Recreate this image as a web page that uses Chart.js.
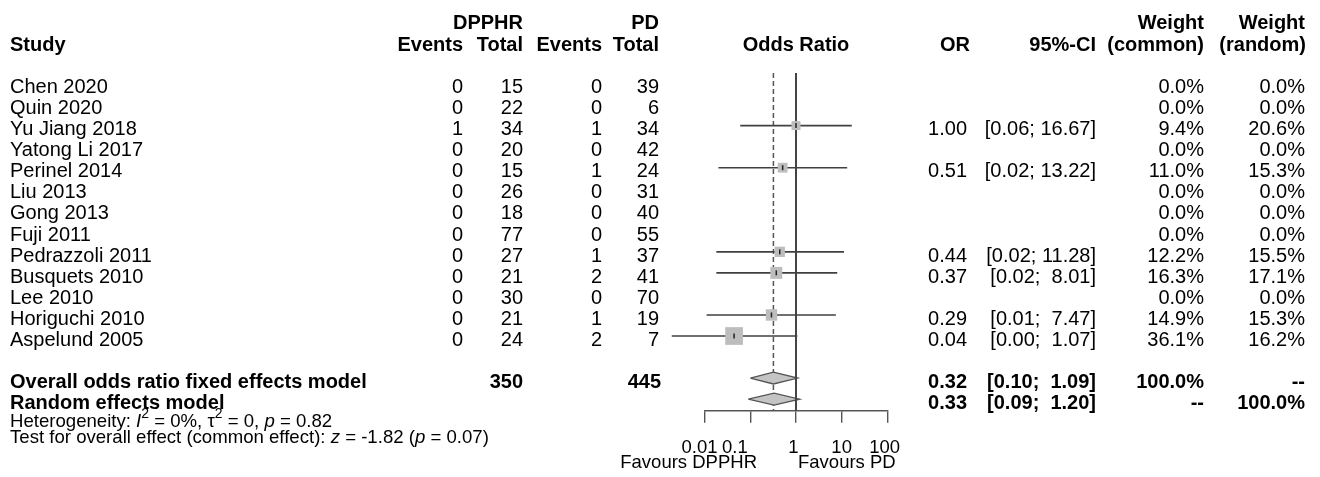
<!DOCTYPE html>
<html>
<head>
<meta charset="utf-8">
<script src="https://cdn.jsdelivr.net/npm/chart.js@4.4.1/dist/chart.umd.min.js"></script>
<style>
  html, body { margin: 0; background: #fff; }
  canvas { display: block; }
</style>
</head>
<body>
<canvas id="forest" width="1320" height="477"></canvas>
<script>
// ─── Data ────────────────────────────────────────────────────
const studies = ["Chen 2020", "Quin 2020", "Yu Jiang 2018", "Yatong Li 2017", "Perinel 2014",
  "Liu 2013", "Gong 2013", "Fuji 2011", "Pedrazzoli 2011", "Busquets 2010", "Lee 2010",
  "Horiguchi 2010", "Aspelund 2005"];
const eventsDpphr = [0, 0, 1, 0, 0, 0, 0, 0, 0, 0, 0, 0, 0];
const totalDpphr  = [15, 22, 34, 20, 15, 26, 18, 77, 27, 21, 30, 21, 24];
const eventsPd    = [0, 0, 1, 0, 1, 0, 0, 0, 1, 2, 0, 1, 2];
const totalPd     = [39, 6, 34, 42, 24, 31, 40, 55, 37, 41, 70, 19, 7];
const oddsRatio   = [null, null, 1.00, null, 0.51, null, null, null, 0.44, 0.37, null, 0.29, 0.044];
const ciLower     = [null, null, 0.06, null, 0.02, null, null, null, 0.018, 0.018, null, 0.011, 0.0019];
const ciUpper     = [null, null, 16.67, null, 13.22, null, null, null, 11.28, 8.01, null, 7.47, 1.07];
const weightCommon = [0, 0, 9.4, 0, 11.0, 0, 0, 0, 12.2, 16.3, 0, 14.9, 36.1];
const weightRandom = [0, 0, 20.6, 0, 15.3, 0, 0, 0, 15.5, 17.1, 0, 15.3, 16.2];

const sumTotalDpphr = 350;
const sumTotalPd = 445;
const fixedEffect  = [0.32, 0.10, 1.09];   // OR, lower, upper
const randomEffect = [0.33, 0.09, 1.20];

const tickValues = [0.01, 0.1, 1, 10, 100];
const tickLabels = ["0.01", "0.1", "1", "10", "100"];

// ─── Helpers ─────────────────────────────────────────────────
const FONT = '"Liberation Sans", Arial, Helvetica, sans-serif';
const FIXED_ROW = 14, RANDOM_ROW = 15;
const withCi = studies.map((_, i) => i).filter(i => oddsRatio[i] != null);

const fmtCi = (lo, hi) => `[${lo.toFixed(2)}; ${hi.toFixed(2).padStart(5)}]`;
const fmtPct = w => `${w.toFixed(1)}%`;
// R nudges some tick labels left of their tick; trailing spaces mimic that
const labelNudge = [2, 6, 1, 0, 1];

function diamond(eff, row) {
  const [est, lo, hi] = eff;
  const h = 0.28;
  return [{ x: lo, y: row }, { x: est, y: row - h }, { x: hi, y: row }, { x: est, y: row + h }, { x: lo, y: row }];
}

const LINE = "#404040";

// ─── Datasets ────────────────────────────────────────────────
const datasets = [
  // center marks
  {
    type: "scatter",
    data: withCi.map(i => ({ x: oddsRatio[i], y: i })),
    pointStyle: "line", rotation: 90, pointRadius: 2.5,
    borderColor: "#222", borderWidth: 1.5, order: 1, clip: false,
  },
  // squares
  {
    type: "scatter",
    data: withCi.map(i => ({ x: oddsRatio[i], y: i })),
    pointStyle: "rect",
    pointRadius: withCi.map(i => 2.95 * Math.sqrt(weightCommon[i]) / Math.SQRT2),
    backgroundColor: "#bdbdbd", borderWidth: 0, order: 2, clip: false,
  },
  // confidence intervals
  ...withCi.map(i => ({
    type: "line",
    data: [{ x: ciLower[i], y: i }, { x: ciUpper[i], y: i }],
    borderColor: LINE, borderWidth: 1.6, pointRadius: 0, order: 3, clip: false,
  })),
  // reference line at 1
  {
    type: "line",
    data: [{ x: 1, y: -0.5 }, { x: 1, y: 15.55 }],
    borderColor: "#444", borderWidth: 2, pointRadius: 0, order: 4,
  },
  // diamonds
  ...[[fixedEffect, FIXED_ROW], [randomEffect, RANDOM_ROW]].map(([eff, row]) => ({
    type: "line",
    data: diamond(eff, row),
    borderColor: "#555", borderWidth: 1.3, backgroundColor: "#c4c4c4",
    fill: "shape", tension: 0, pointRadius: 0, order: 5,
  })),
  // common effect dashed line
  {
    type: "line",
    data: [{ x: fixedEffect[0], y: -0.5 }, { x: fixedEffect[0], y: 15.55 }],
    borderColor: "#555", borderWidth: 1.5, borderDash: [5, 3], pointRadius: 0, order: 6,
  },
];

// ─── Text columns ────────────────────────────────────────────
function txt(ctx, s, x, y, align = "left", bold = false, size = 20, italic = false) {
  ctx.font = `${italic ? "italic " : ""}${bold ? "bold " : ""}${size}px ${FONT}`;
  ctx.textAlign = align;
  ctx.textBaseline = "alphabetic";
  ctx.fillText(s, x, y);
}

function rich(ctx, parts, x, y) {
  ctx.textAlign = "left";
  ctx.textBaseline = "alphabetic";
  for (const p of parts) {
    const size = p.sup ? 14 : 18.6;
    ctx.font = `${p.it ? "italic " : ""}${size}px ${FONT}`;
    ctx.fillText(p.t, x, p.sup ? y - 9 : y);
    x += ctx.measureText(p.t).width;
  }
}

const textPlugin = {
  id: "forestText",
  afterDraw(chart) {
    const ctx = chart.ctx;
    const ys = chart.scales.y;
    const base = i => ys.getPixelForValue(i) + 9.7;
    ctx.save();
    ctx.fillStyle = "#000";

    // headers
    txt(ctx, "DPPHR", 523, 29, "right", true);
    txt(ctx, "PD", 659, 29, "right", true);
    txt(ctx, "Weight", 1204, 29, "right", true);
    txt(ctx, "Weight", 1305, 29, "right", true);
    txt(ctx, "Study", 10, 51, "left", true);
    txt(ctx, "Events", 463, 51, "right", true);
    txt(ctx, "Total", 523, 51, "right", true);
    txt(ctx, "Events", 602, 51, "right", true);
    txt(ctx, "Total", 659, 51, "right", true);
    txt(ctx, "Odds Ratio", 796, 51, "center", true);
    txt(ctx, "OR", 970, 51, "right", true);
    txt(ctx, "95%-CI", 1096, 51, "right", true);
    txt(ctx, "(common)", 1204, 51, "right", true);
    txt(ctx, "(random)", 1306, 51, "right", true);

    // study rows
    studies.forEach((name, i) => {
      const y = base(i);
      txt(ctx, name, 10, y);
      txt(ctx, String(eventsDpphr[i]), 463, y, "right");
      txt(ctx, String(totalDpphr[i]), 523, y, "right");
      txt(ctx, String(eventsPd[i]), 602, y, "right");
      txt(ctx, String(totalPd[i]), 659, y, "right");
      if (oddsRatio[i] != null) {
        txt(ctx, oddsRatio[i].toFixed(2), 967, y, "right");
        txt(ctx, fmtCi(ciLower[i], ciUpper[i]), 1096, y, "right");
      }
      txt(ctx, fmtPct(weightCommon[i]), 1204, y, "right");
      txt(ctx, fmtPct(weightRandom[i]), 1305, y, "right");
    });

    // summary rows
    let y = base(FIXED_ROW);
    txt(ctx, "Overall odds ratio fixed effects model", 10, y, "left", true);
    txt(ctx, String(sumTotalDpphr), 523, y, "right", true);
    txt(ctx, String(sumTotalPd), 661, y, "right", true);
    txt(ctx, fixedEffect[0].toFixed(2), 967, y, "right", true);
    txt(ctx, fmtCi(fixedEffect[1], fixedEffect[2]), 1096, y, "right", true);
    txt(ctx, "100.0%", 1204, y, "right", true);
    txt(ctx, "--", 1305, y, "right", true);

    y = base(RANDOM_ROW);
    txt(ctx, "Random effects model", 10, y, "left", true);
    txt(ctx, randomEffect[0].toFixed(2), 967, y, "right", true);
    txt(ctx, fmtCi(randomEffect[1], randomEffect[2]), 1096, y, "right", true);
    txt(ctx, "--", 1204, y, "right", true);
    txt(ctx, "100.0%", 1305, y, "right", true);

    // heterogeneity + test
    rich(ctx, [
      { t: "Heterogeneity: " }, { t: "I", it: true }, { t: "2", sup: true },
      { t: " = 0%, \u03c4" }, { t: "2", sup: true }, { t: " = 0, " },
      { t: "p", it: true }, { t: " = 0.82" },
    ], 10, 427);
    rich(ctx, [
      { t: "Test for overall effect (common effect): " }, { t: "z", it: true },
      { t: " = -1.82 (" }, { t: "p", it: true }, { t: " = 0.07)" },
    ], 10, 442.5);

    // axis side labels
    txt(ctx, "Favours DPPHR", 757, 468, "right", false, 18.5);
    txt(ctx, "Favours PD", 798, 468, "left", false, 18.5);
    ctx.restore();
  }
};

// ─── Chart ───────────────────────────────────────────────────
new Chart(document.getElementById("forest"), {
  type: "scatter",
  data: { datasets },
  options: {
    responsive: false,
    animation: false,
    devicePixelRatio: 1,
    layout: { padding: { left: 704.7, right: 432.7, top: 73, bottom: 18.3 } },
    plugins: { legend: { display: false }, tooltip: { enabled: false } },
    scales: {
      x: {
        type: "logarithmic",
        min: 0.01, max: 100,
        afterBuildTicks: scale => { scale.ticks = tickValues.map(v => ({ value: v })); },
        afterFit: scale => { scale.height = 48; },
        ticks: {
          autoSkip: false, maxRotation: 0, padding: 14.5,
          color: "#000", font: { family: FONT, size: 18.5 },
          callback: (v, i) => tickLabels[i] + " ".repeat(labelNudge[i]),
        },
        grid: { display: true, drawOnChartArea: false, drawTicks: true, tickLength: 12, color: "#555", lineWidth: 1.4 },
        border: { display: true, color: "#555", width: 1.4 },
      },
      y: {
        type: "linear", display: false, reverse: true,
        min: -0.5, max: 15.55,
      }
    }
  },
  plugins: [textPlugin]
});
</script>
</body>
</html>
